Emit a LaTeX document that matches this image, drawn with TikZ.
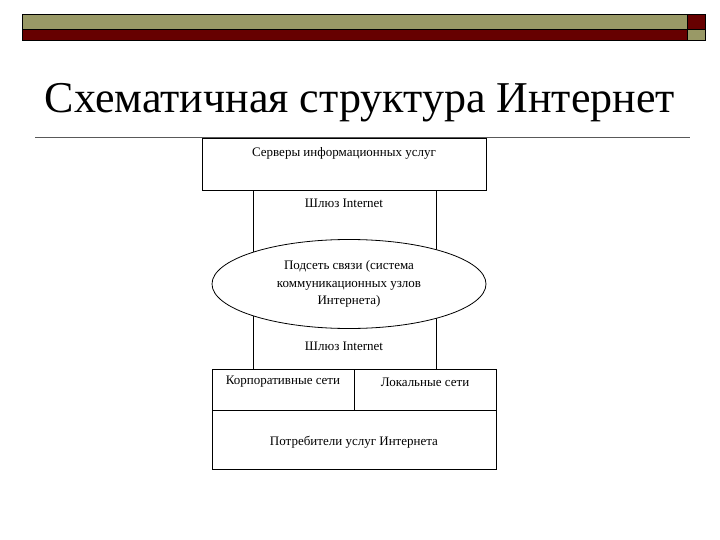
\documentclass[tikz,border=0pt]{standalone}
\usepackage{fontspec}
\setmainfont{Liberation Serif}
\usetikzlibrary{shapes.geometric}
\definecolor{olive}{RGB}{153,153,102}
\definecolor{dred}{RGB}{102,0,0}
\begin{document}
\begin{tikzpicture}[x=1pt,y=-1pt,
  lbl/.style={inner sep=0pt,font=\fontsize{13}{15}\selectfont},
  bx/.style={draw=black,line width=0.8pt}]
\useasboundingbox (0,0) rectangle (720,540);
% header bar
\fill[olive,draw=black,line width=0.6pt] (22,14) rectangle (687,29);
\fill[dred,draw=black,line width=0.6pt] (22,29) rectangle (687,40);
\fill[dred,draw=black,line width=0.6pt] (687,14) rectangle (705,29);
\fill[olive,draw=black,line width=0.6pt] (687,29) rectangle (705,40);
% title
\node[inner sep=0pt,font=\fontsize{44}{50}\selectfont] (title) at (360,103) {Схематичная структура Интернет};
\draw[gray!70!black,line width=0.7pt] (35,137) -- (690,137);
% diagram
\draw[bx] (253,190) -- (253,370);
\draw[bx] (436,190) -- (436,370);
\node[bx,draw,fill=white,minimum width=284pt,minimum height=52pt] (srv) at (344,164) {};
\node[lbl] at (344,153) {Серверы информационных услуг};
\node[lbl] (g1) at (344,203) {Шлюз Internet};
\node[ellipse,bx,fill=white,minimum width=274pt,minimum height=89pt,inner sep=0pt,align=center,font=\fontsize{13}{17.5}\selectfont] (net) at (349,284) {Подсеть связи (система\\коммуникационных узлов\\Интернета)};
\node[lbl] (g2) at (344,346) {Шлюз Internet};
\node[bx,fill=white,minimum width=284pt,minimum height=100pt] (cons) at (354,419) {};
\draw[bx] (354,369) -- (354,410);
\draw[bx] (212,410) -- (496,410);
\node[lbl] (corp) at (283,382) {Корпоративные сети};
\node[lbl] (loc) at (425,382) {Локальные сети};
\node[lbl] (usr) at (354,442) {Потребители услуг Интернета};
\end{tikzpicture}
\end{document}
